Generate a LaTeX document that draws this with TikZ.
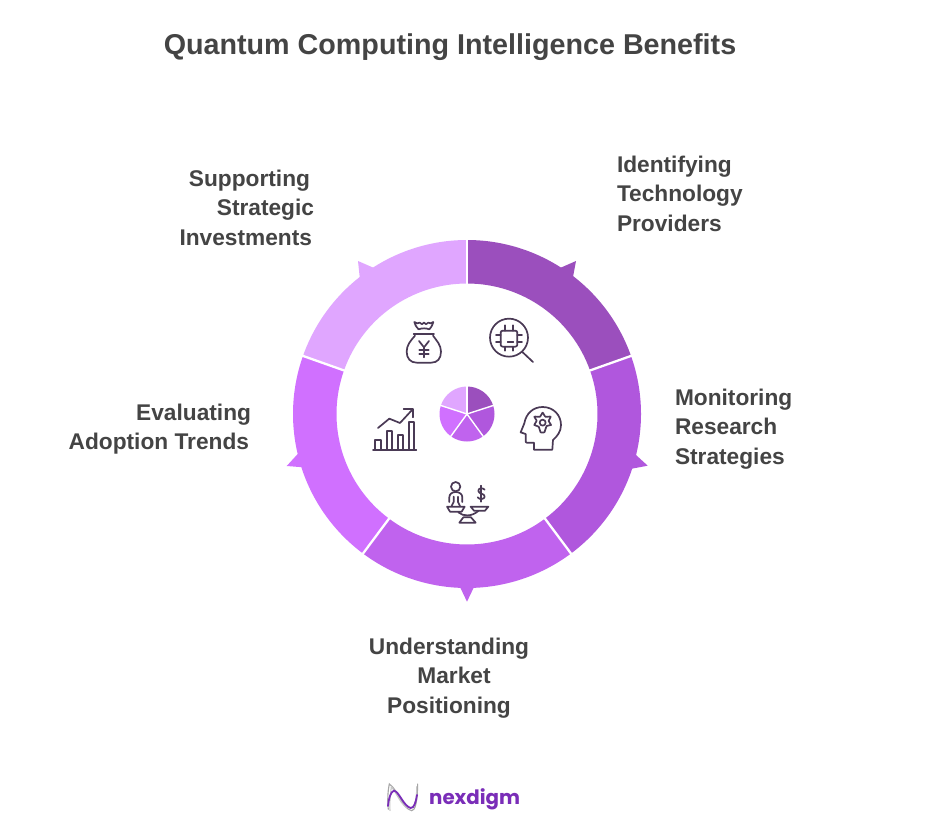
\documentclass[tikz,border=0pt]{standalone}
\usepackage{fontspec}
\setmainfont{Liberation Sans}
\newfontfamily\logofont{Poppins}
\definecolor{segA}{HTML}{9B4FBD}
\definecolor{segB}{HTML}{B057DD}
\definecolor{segC}{HTML}{C063EE}
\definecolor{segD}{HTML}{D070FF}
\definecolor{segE}{HTML}{E0A6FF}
\definecolor{inkT}{HTML}{444444}
\definecolor{inkI}{HTML}{4A3A55}
\definecolor{logoP}{HTML}{7A2DB8}
\newcommand{\sector}[3]{\fill[#1] (#2:174pt) arc[start angle=#2,end angle=#3,radius=174pt] -- (#3:130.5pt) arc[start angle=#3,end angle=#2,radius=130.5pt] -- cycle;}
\newcommand{\pieslice}[3]{\fill[#1] (#2:27.5pt) arc[start angle=#2,end angle=#3,radius=27.5pt] -- (0pt,0pt) -- cycle;}
\tikzset{
  lab/.style={font=\bfseries\fontsize{22.7}{29.3}\selectfont,text=inkT,inner sep=0pt,outer sep=0pt},
  ico/.style={draw=inkI,line width=1.7pt,line cap=round,line join=round},
}
\begin{document}
\begin{tikzpicture}[x=1pt,y=-1pt]
\useasboundingbox (0,0) rectangle (936,829);
\fill[white] (0,0) rectangle (936,829);
% pointers
\fill[segA] (560,268) -- (576,261) -- (573,277) -- (555,285) -- cycle;
\fill[segB] (636,455) -- (647.7,465.7) -- (631.7,468.7) -- (620,460) -- cycle;
\fill[segC] (460,587) -- (467,601.7) -- (474,587) -- (474,575) -- (460,575) -- cycle;
\fill[segD] (297.7,454) -- (286.7,466) -- (303.3,467.3) -- (315,460) -- cycle;
\fill[segE] (358,261) -- (374,268) -- (380,285) -- (360,280) -- cycle;
% ring and small pie
\begin{scope}[shift={(467,414)},y=1pt]
\sector{segA}{90}{19.5}
\sector{segB}{19.5}{-53.3}
\sector{segC}{-53.3}{-126.7}
\sector{segD}{-126.7}{-199.5}
\sector{segE}{160.5}{90}
\pieslice{segA}{90}{18}
\pieslice{segB}{18}{-54}
\pieslice{segC}{-54}{-126}
\pieslice{segD}{-126}{-198}
\pieslice{segE}{162}{90}
\foreach \ang in {90,19.5,-53.3,-126.7,160.5}{
  \draw[white,line width=2.3pt] (\ang:126pt) -- (\ang:180pt);
}
\foreach \ang in {90,18,-54,-126,162}{
  \draw[white,line width=1.4pt] (0pt,0pt) -- (\ang:29pt);
}
\end{scope}
% icons, in coordinates of a 3x crop at (350,300)
\begin{scope}[x=.33333pt,y=-.33333pt,shift={(1050,900)}]
% money bag
\draw[ico] (206,88) .. controls (198,80) and (194,72) .. (193,66) .. controls (200,70) and (204,72) .. (209,68) .. controls (214,74) and (218,74) .. (222,68) .. controls (226,74) and (230,74) .. (235,68) .. controls (240,72) and (244,70) .. (250,66) .. controls (249,72) and (245,80) .. (238,88);
\draw[ico] (206,88) .. controls (216,84) and (228,84) .. (238,88);
\draw[ico] (191,103) -- (252,103);
\draw[ico] (195,107) .. controls (182,122) and (170,135) .. (170,155) .. controls (170,176) and (182,188) .. (200,188) -- (244,188) .. controls (262,188) and (273,176) .. (273,155) .. controls (273,135) and (260,122) .. (249,107);
\draw[ico] (207,123) -- (222,142) -- (237,123);
\draw[ico] (222,142) -- (222,172);
\draw[ico] (208,150) -- (236,150);
\draw[ico] (208,161) -- (236,161);
% chip under magnifier
\draw[ico] (477,113) circle[radius=57];
\draw[ico,rounded corners=2pt] (452,92) rectangle (502,140);
\foreach \vv in {466,490}{\draw[ico] (\vv,76) -- (\vv,92); \draw[ico] (\vv,140) -- (\vv,152);}
\foreach \vv in {105,125}{\draw[ico] (438,\vv) -- (452,\vv); \draw[ico] (502,\vv) -- (516,\vv);}
\draw[ico] (473,126) -- (490,126);
\draw[ico] (516,155) -- (549,186);
% chart
\draw[ico] (69,450) -- (199,450);
\draw[ico] (76,450) -- (76,420) -- (94,420) -- (94,450);
\draw[ico] (110,450) -- (110,393) -- (127,393) -- (127,450);
\draw[ico] (143,450) -- (143,405) -- (160,405) -- (160,450);
\draw[ico] (176,450) -- (176,367) -- (193,367) -- (193,450);
\draw[ico] (84,384) -- (118,356) -- (150,369) -- (187,329);
\draw[ico] (161,327) -- (188,327) -- (188,352);
% head with gear
\draw[ico] (607,449) -- (552,449) -- (552,428) -- (530,428) .. controls (527,428) and (527,425) .. (527,422) -- (527,402) -- (512,397) -- (523,370) .. controls (528,340) and (550,321) .. (578,321) .. controls (610,321) and (633,345) .. (633,375) .. controls (633,395) and (622,408) .. (609,420) -- cycle;
\draw[ico] plot[smooth cycle,tension=.25] coordinates {(578,338) (586,350) (602,350) (596,363) (603,375) (590,378) (583,397) (572,397) (566,380) (553,375) (560,362) (553,350) (570,350)};
\draw[ico] (578,368) circle[radius=9];
% scale
\draw[ico] (317,560) circle[radius=14];
\draw[ico] (298,606) -- (298,592) .. controls (298,582) and (306,576) .. (317,576) .. controls (328,576) and (337,582) .. (337,592) -- (337,606);
\draw[ico] (311,590) -- (311,606) -- (305,618);
\draw[ico] (324,590) -- (324,606) -- (330,618);
\draw[ico] (291,620) -- (344,620) -- (335,635) -- (300,635) -- cycle;
\draw[ico] (362,620) -- (415,620) -- (405,632) -- (372,632) -- cycle;
\draw[ico] (325,637) .. controls (340,650) and (365,650) .. (385,633);
\draw[ico] (340,652) -- (363,652) -- (377,668) -- (328,668) -- cycle;
\draw[ico] (404,569) .. controls (398,562) and (384,564) .. (385,573) .. controls (386,582) and (404,580) .. (404,590) .. controls (404,598) and (388,600) .. (383,592);
\draw[ico] (394,557) -- (394,605);
\end{scope}
% logo, in coordinates of a 3x crop at (370,770)
\begin{scope}[x=.33333pt,y=-.33333pt,shift={(1110,2310)},line cap=round]
\draw[gray!70,line width=1.1pt] (55,118) .. controls (52,95) and (53,65) .. (58,42) .. controls (85,60) and (95,115) .. (125,122) .. controls (135,122) and (142,100) .. (143,42);
\draw[gray!45,line width=1.1pt] (60,122) .. controls (58,95) and (62,70) .. (64,50) .. controls (85,75) and (100,128) .. (130,110) .. controls (138,100) and (140,80) .. (140,50);
\draw[logoP,line width=1.8pt] (54,108) .. controls (56,85) and (62,65) .. (72,62) .. controls (88,65) and (100,108) .. (122,114) .. controls (132,116) and (138,95) .. (141,75);
\end{scope}
% labels
\node[lab,font=\bfseries\fontsize{28.7}{34}\selectfont,anchor=center] (title) at (450,47) {Quantum Computing Intelligence Benefits};
\node[lab,align=left,anchor=north west] (identifying) at (617,156) {Identifying\\Technology\\Providers};
\node[lab,align=left,anchor=north west] (monitoring) at (675,389) {Monitoring\\Research\\Strategies};
\node[lab,align=center,anchor=north] (understanding) at (449,638) {Understanding\\\hspace*{10pt}Market\\Positioning};
\node[lab,align=right,anchor=north east] (evaluating) at (251,404) {Evaluating\\Adoption Trends\hspace*{2pt}};
\node[lab,align=right,anchor=north east] (supporting) at (314,170) {Supporting\hspace*{4pt}\\Strategic\\Investments\hspace*{2pt}};
\node[inner sep=0pt,anchor=west,text=logoP,font=\logofont\bfseries\fontsize{19.8}{24}\selectfont] (logo) at (429,799) {nexdigm};
\end{tikzpicture}
\end{document}
